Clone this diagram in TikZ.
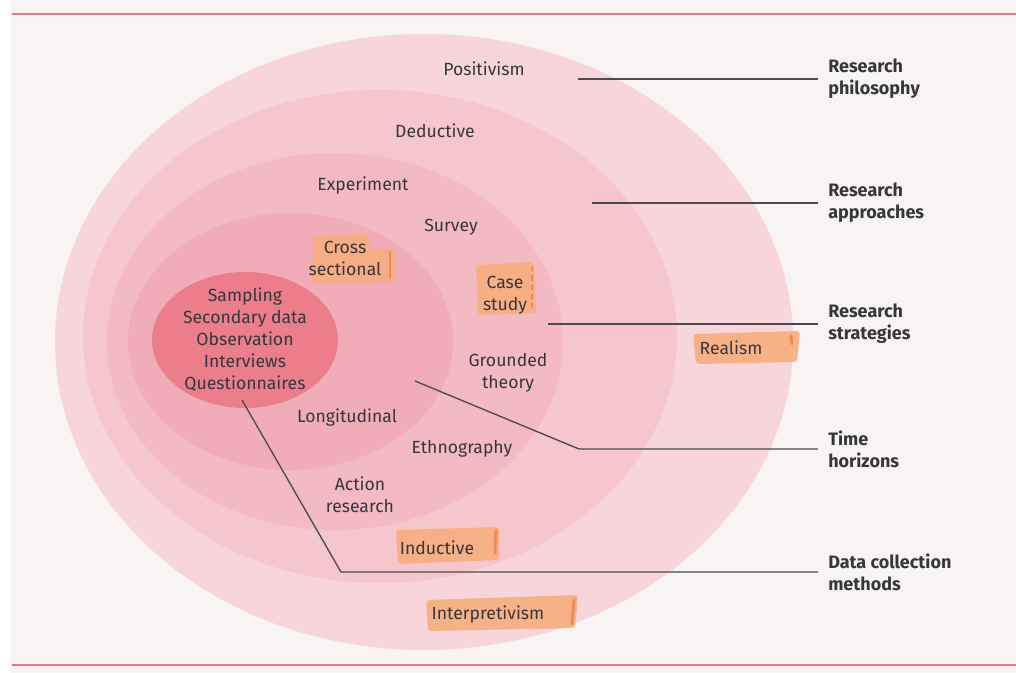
\documentclass[tikz,border=0pt]{standalone}
\usepackage{fontspec}
\setmainfont{Fira Sans}
\definecolor{pagebg}{HTML}{F7F4F3}
\definecolor{redline}{HTML}{E27C8A}
\definecolor{r1}{HTML}{F8D5DA}
\definecolor{r2}{HTML}{F5C6CD}
\definecolor{r3}{HTML}{F3BAC3}
\definecolor{r4}{HTML}{F1ADB7}
\definecolor{corec}{HTML}{EB7E8A}
\definecolor{ink}{HTML}{36363C}
\definecolor{linec}{HTML}{4A4A52}
\definecolor{hlc}{HTML}{F7AE80}
\definecolor{hlm}{HTML}{EE8A55}
\begin{document}
\begin{tikzpicture}[x=0.75pt,y=-0.75pt,
  txt/.style={font=\fontsize{13.2}{16.5}\selectfont, text=ink, align=center, inner sep=0pt},
  lab/.style={font=\bfseries\fontsize{13.5}{16.5}\selectfont, text=ink, align=left, anchor=west, inner ysep=0pt, inner xsep=7.5pt},
  leader/.style={draw=linec, line width=1pt},
  hl/.style={fill=hlc, fill opacity=0.92, rounded corners=2.5pt},
  hlmark/.style={draw=hlm, line width=2.2pt, line cap=round}]
\useasboundingbox (0,0) rectangle (1016,673);
\fill[pagebg] (0,0) rectangle (1016,673);
\fill[white] (0,0) rectangle (10,673);
\draw[redline, line width=1.1pt] (12,14) -- (1016,14);
\draw[redline, line width=1.1pt] (12,665) -- (1016,665);
% onion rings
\fill[r1] (424,342) ellipse [x radius=369, y radius=308];
\fill[r2] (380,336.5) ellipse [x radius=297, y radius=246.5];
\fill[r3] (335,341.5) ellipse [x radius=228, y radius=188.5];
\fill[r4] (290.5,341.5) ellipse [x radius=162.5, y radius=128.5];
\fill[corec] (245,340) ellipse [x radius=93, y radius=68];
% highlights
\path[hl] (313,236) -- (368,234) -- (370,249) -- (395,249) -- (395,282) -- (312,283) -- cycle;
\draw[hlmark] (390,252) -- (390,278);
\path[hl] (476,265) -- (534,262) -- (536,313) -- (478,315) -- cycle;
\draw[hlm, line width=1.6pt, dash pattern=on 4pt off 3pt] (532,266) -- (532,308);
\path[hl] (693,334) -- (800,331) -- (797,362) -- (696,364) -- cycle;
\draw[hlmark] (791,336) -- (792,344);
\path[hl] (396,530) -- (499,527) -- (499,560) -- (398,564) -- cycle;
\draw[hlmark] (496,530) -- (495,553);
\path[hl] (426,600) -- (578,595) -- (575,628) -- (428,631) -- cycle;
\draw[hlmark] (574,600) -- (572,624);
% texts
\node[txt] (positivism) at (484,69) {Positivism};
\node[txt] (deductive) at (435,131) {Deductive};
\node[txt] (experiment) at (363,186) {Experiment};
\node[txt] (survey) at (451,227) {Survey};
\node[txt] (cross) at (345,258) {Cross\\sectional};
\node[txt] (case) at (505,295) {Case\\study};
\node[txt] (core) at (245,340) {Sampling\\Secondary data\\Observation\\Interviews\\Questionnaires};
\node[txt] (realism) at (731,348) {Realism};
\node[txt] (grounded) at (508,373) {Grounded\\theory};
\node[txt] (longitudinal) at (347,418) {Longitudinal};
\node[txt] (ethnography) at (462,449) {Ethnography};
\node[txt] (action) at (360,495) {Action\\research};
\node[txt] (inductive) at (437,548) {Inductive};
\node[txt] (interpretivism) at (488,615) {Interpretivism};
% right labels
\node[lab] (lphil) at (818,79) {Research\\philosophy};
\node[lab] (lappr) at (818,203) {Research\\approaches};
\node[lab] (lstrat) at (818,324) {Research\\strategies};
\node[lab] (ltime) at (818,449) {Time\\horizons};
\node[lab] (ldata) at (818,572) {Data collection\\methods};
% leader lines
\coordinate (p0) at (578,79);
\coordinate (a0) at (592,203);
\coordinate (s0) at (548,324);
\coordinate (t0) at (415,381);
\coordinate (t1) at (579,449);
\coordinate (d0) at (242,400);
\coordinate (d1) at (341,572);
\draw[leader] (p0) -- (lphil.west);
\draw[leader] (a0) -- (lappr.west);
\draw[leader] (s0) -- (lstrat.west);
\draw[leader] (t0) -- (t1) -- (ltime.west);
\draw[leader] (d0) -- (d1) -- (ldata.west);
\end{tikzpicture}
\end{document}
